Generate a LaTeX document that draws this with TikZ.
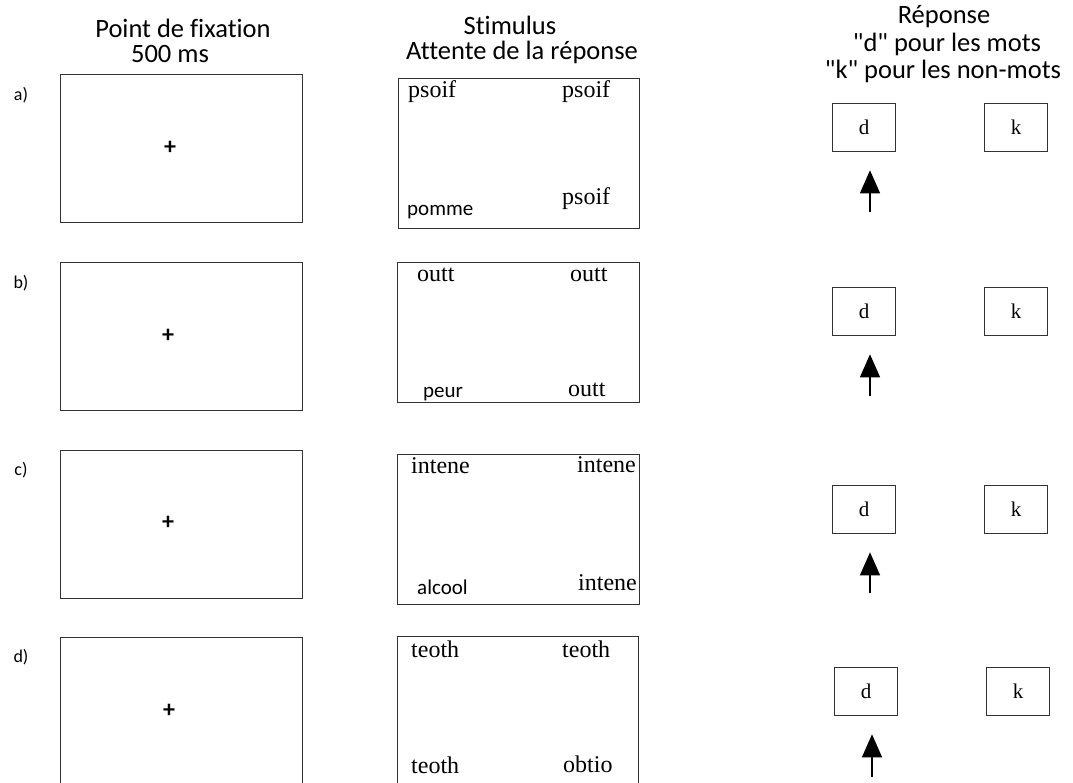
\documentclass[tikz,border=0pt]{standalone}
\usepackage{fontspec}
\setmainfont{Liberation Serif}
\newfontfamily\calibfont[Ligatures={NoCommon}]{Carlito}
\usetikzlibrary{arrows.meta}

\tikzset{
  heading/.style={font=\calibfont\fontsize{26.5}{28}\selectfont, inner sep=0pt},
  rowlab/.style={font=\calibfont\fontsize{18}{18}\selectfont, inner sep=0pt},
  fixscreen/.style={draw=black!80, line width=1.4pt, anchor=north west, inner sep=0pt,
    minimum width=242pt, minimum height=148pt},
  stimscreen/.style={draw=black!80, line width=1.4pt, anchor=north west, inner sep=0pt},
  cross/.style={font=\calibfont\bfseries\fontsize{24}{24}\selectfont, inner sep=0pt},
  serifword/.style={font=\fontsize{24}{24}\selectfont, anchor=base west, inner sep=0pt},
  sansword/.style={font=\calibfont\fontsize{21}{21}\selectfont, anchor=base west, inner sep=0pt},
  keybox/.style={draw=black!80, line width=1.3pt, anchor=north west, inner sep=0pt,
    minimum width=63pt, minimum height=48pt, font=\fontsize{21}{21}\selectfont},
  press/.style={line width=1.3pt, -{Triangle[width=20pt,length=23pt]}, shorten >=18pt}
}

\begin{document}
\begin{tikzpicture}[x=1pt,y=-1pt]
  \useasboundingbox (0,0) rectangle (1073,782);
  \clip (0,0) rectangle (1073,782);

  % headings
  \node[heading] (hfix) at (183,28) {Point de fixation};
  \node[heading] (hdur) at (170,54) {500 ms};
  \node[heading] (hstim) at (510,25) {Stimulus};
  \node[heading] (hwait) at (522,52) {Attente de la réponse};
  \node[heading] (hresp) at (944,17) {Réponse};
  \node[heading] (hmots) at (947,44) {"d" pour les mots};
  \node[heading] (hnon) at (943,71) {"k" pour les non-mots};

  % row a
  \node[rowlab] (labA) at (21,95) {a)};
  \node[fixscreen] (fixA) at (60,74) {};
  \node[cross] (plusA) at (170,148) {+};
  \node[stimscreen, minimum width=241pt, minimum height=150pt] (stimA) at (398,78) {};
  \node[serifword] (wA1) at (408,97) {psoif};
  \node[serifword] (wA2) at (562,97) {psoif};
  \node[sansword] (wA3) at (407,215) {pomme};
  \node[serifword] (wA4) at (562,204) {psoif};
  \node[keybox] (respdA) at (832,103) {d};
  \node[keybox] (respkA) at (984,103) {k};
  \coordinate (tailA) at (870,212);
  \draw[press] (tailA) -- (tailA |- respdA.south);

  % row b
  \node[rowlab] (labB) at (21,283) {b)};
  \node[fixscreen] (fixB) at (60,262) {};
  \node[cross] (plusB) at (168,336) {+};
  \node[stimscreen, minimum width=242pt, minimum height=140pt] (stimB) at (397,262) {};
  \node[serifword] (wB1) at (417,281) {outt};
  \node[serifword] (wB2) at (570,281) {outt};
  \node[sansword] (wB3) at (423,397) {peur};
  \node[serifword] (wB4) at (568,396) {outt};
  \node[keybox] (respdB) at (832,287) {d};
  \node[keybox] (respkB) at (984,287) {k};
  \coordinate (tailB) at (870,396);
  \draw[press] (tailB) -- (tailB |- respdB.south);

  % row c
  \node[rowlab] (labC) at (21,470) {c)};
  \node[fixscreen] (fixC) at (60,450) {};
  \node[cross] (plusC) at (168,523) {+};
  \node[stimscreen, minimum width=242pt, minimum height=150pt] (stimC) at (397,454) {};
  \node[serifword] (wC1) at (411,473) {intene};
  \node[serifword] (wC2) at (577,472) {intene};
  \node[sansword] (wC3) at (417,594) {alcool};
  \node[serifword] (wC4) at (578,590) {intene};
  \node[keybox] (respdC) at (832,485) {d};
  \node[keybox] (respkC) at (984,485) {k};
  \coordinate (tailC) at (870,593);
  \draw[press] (tailC) -- (tailC |- respdC.south);

  % row d
  \node[rowlab] (labD) at (21,657) {d)};
  \node[fixscreen] (fixD) at (60,637) {};
  \node[cross] (plusD) at (169,711) {+};
  \node[stimscreen, minimum width=241pt, minimum height=160pt] (stimD) at (397,636) {};
  \node[serifword] (wD1) at (411,657) {teoth};
  \node[serifword] (wD2) at (562,657) {teoth};
  \node[serifword] (wD3) at (411,773) {teoth};
  \node[serifword] (wD4) at (563,772) {obtio};
  \node[keybox] (respdD) at (834,667) {d};
  \node[keybox] (respkD) at (986,667) {k};
  \coordinate (tailD) at (872,777);
  \draw[press] (tailD) -- (tailD |- respdD.south);
\end{tikzpicture}
\end{document}
